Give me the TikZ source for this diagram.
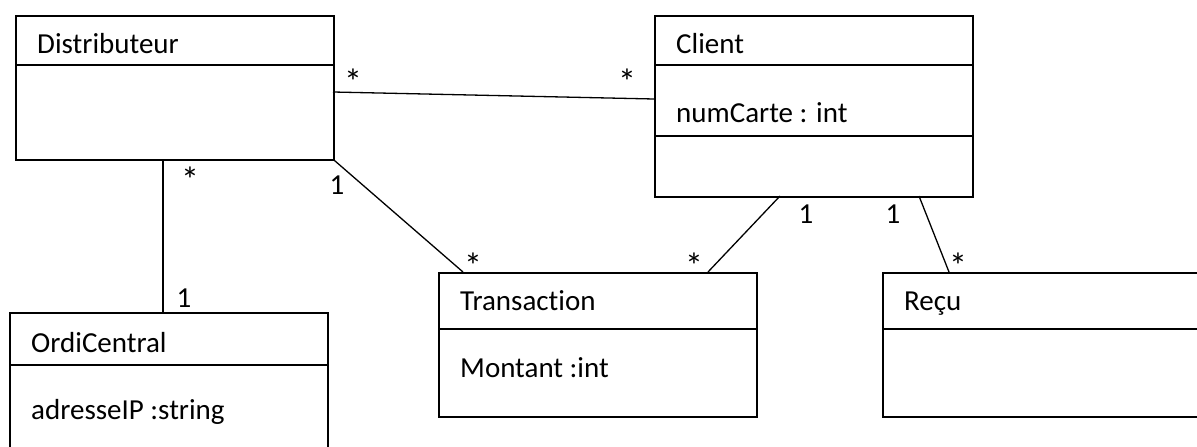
\documentclass[tikz,border=0pt]{standalone}
\usepackage{fontspec}
\setmainfont{Carlito}[Ligatures={NoCommon,NoRare,NoDiscretionary}]
\usetikzlibrary{calc}
\begin{document}
\begin{tikzpicture}[x=1pt,y=-1pt,
  classbox/.style={draw=black,line width=1.6pt,inner sep=0pt,anchor=north west},
  sep/.style={draw=black,line width=1.6pt},
  assoc/.style={draw=black,line width=1.3pt},
  txt/.style={anchor=base west,inner sep=0pt,font=\fontsize{29}{34}\selectfont},
  mult/.style={anchor=center,inner sep=0pt,font=\fontsize{29}{34}\selectfont},
  star/.style={anchor=center,inner sep=0pt,font=\fontsize{36}{40}\selectfont}]
\useasboundingbox (0,0) rectangle (1197,447);
% class boxes
\node[classbox,minimum width=318pt,minimum height=144pt] (dist) at (15,15) {};
\node[classbox,minimum width=318pt,minimum height=181pt] (client) at (654,15) {};
\node[classbox,minimum width=318pt,minimum height=144pt] (trans) at (438,272) {};
\node[classbox,minimum width=330pt,minimum height=144pt] (recu) at (882,272) {};
\node[classbox,minimum width=318pt,minimum height=150pt] (ordi) at (9,312) {};
% compartment separators
\draw[sep] (dist.west |- 0,65) -- (dist.east |- 0,65);
\draw[sep] (client.west |- 0,65) -- (client.east |- 0,65);
\draw[sep] (client.west |- 0,136) -- (client.east |- 0,136);
\draw[sep] (trans.west |- 0,329) -- (trans.east |- 0,329);
\draw[sep] (recu.west |- 0,329) -- (recu.east |- 0,329);
\draw[sep] (ordi.west |- 0,365) -- (ordi.east |- 0,365);
% texts
\node[txt] (tdist) at (37,53) {Distributeur};
\node[txt] (tclient) at (676,53) {Client};
\node[txt] (tnum) at (676,122) {numCarte : int};
\node[txt] (ttrans) at (460,310) {Transaction};
\node[txt] (tmont) at (460,377) {Montant :int};
\node[txt] (trecu) at (904,310) {Reçu};
\node[txt] (tordi) at (31,352) {OrdiCentral};
\node[txt] (tip) at (31,419) {adresseIP :string};
% associations
\coordinate (dc1) at (333,92);
\coordinate (dc2) at (654,99);
\draw[assoc] (dc1) -- (dc2);
\coordinate (do1) at (163,159);
\coordinate (do2) at (163,312);
\draw[assoc] (do1) -- (do2);
\coordinate (dt2) at (463,272);
\draw[assoc] (dist.south east) -- (dt2);
\coordinate (ct1) at (780,196);
\coordinate (ct2) at (708,272);
\draw[assoc] (ct1) -- (ct2);
\coordinate (cr1) at (919,196);
\coordinate (cr2) at (949,272);
\draw[assoc] (cr1) -- (cr2);
% multiplicities
\node[star] (m1) at (353,82) {*};
\node[star] (m2) at (627,82) {*};
\node[star] (m3) at (190,180) {*};
\node[mult] (m4) at (337,185) {1};
\node[mult] (m5) at (184,298) {1};
\node[star] (m6) at (473,266) {*};
\node[star] (m7) at (694,266) {*};
\node[mult] (m8) at (806,214) {1};
\node[mult] (m9) at (893,214) {1};
\node[star] (m10) at (958,266) {*};
\end{tikzpicture}
\end{document}
